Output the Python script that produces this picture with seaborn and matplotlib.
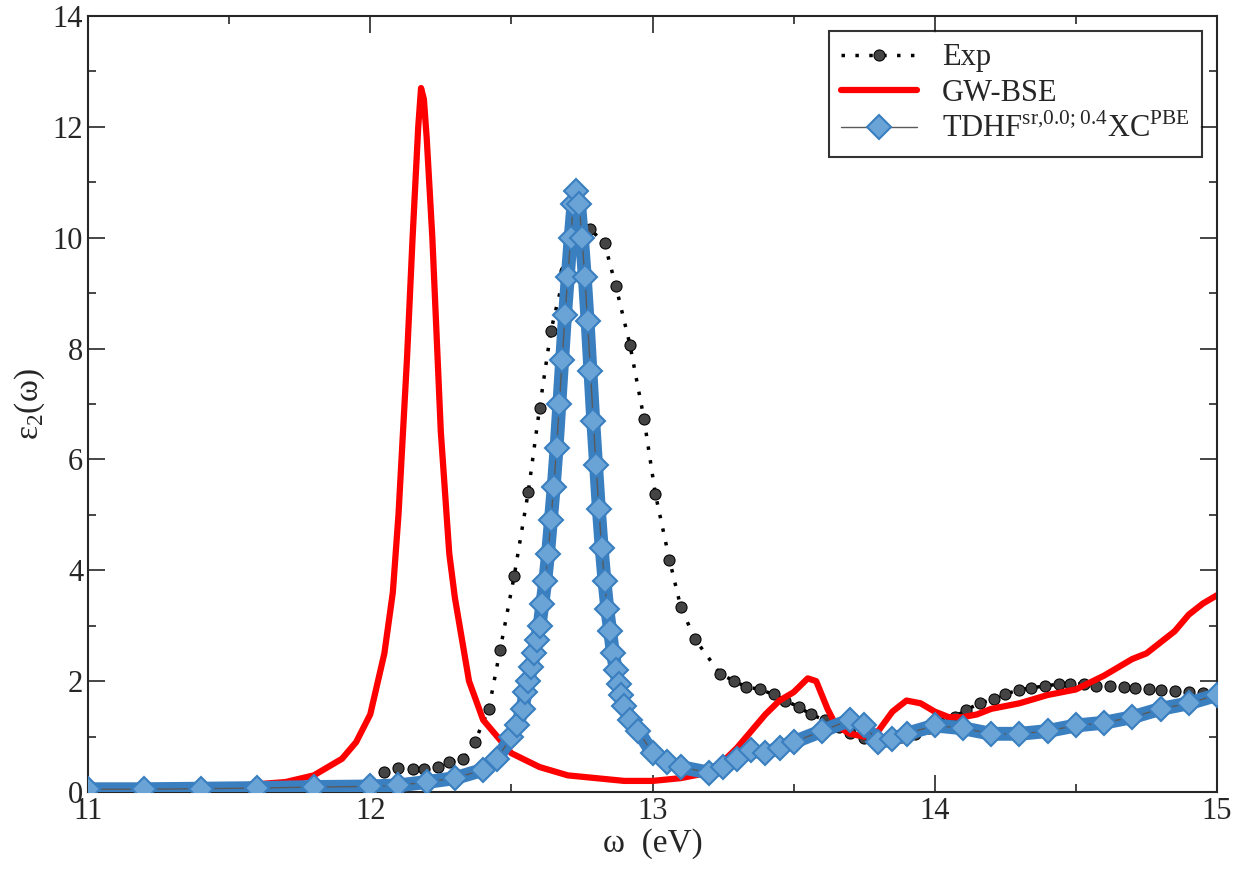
import matplotlib
matplotlib.use('Agg')
import matplotlib.pyplot as plt
import seaborn as sns
from matplotlib.ticker import MultipleLocator

sns.set_style('ticks')
plt.rcParams['font.family'] = ['Liberation Serif', 'DejaVu Serif']
plt.rcParams['mathtext.fontset'] = 'custom'
plt.rcParams['mathtext.rm'] = 'Liberation Serif'

# experimental points
exp_x = [12.05, 12.10, 12.15, 12.19, 12.24, 12.28, 12.33, 12.37, 12.42, 12.46, 12.51, 12.56,
         12.60, 12.64, 12.69, 12.74, 12.78, 12.83, 12.87, 12.92, 12.97, 13.01, 13.06, 13.10,
         13.15, 13.24, 13.29, 13.33, 13.38, 13.43, 13.47, 13.52, 13.56, 13.61, 13.66, 13.70,
         13.75, 13.79, 13.84, 13.88, 13.93, 13.98, 14.02, 14.07, 14.11, 14.16, 14.21, 14.25,
         14.30, 14.34, 14.39, 14.44, 14.48, 14.53, 14.57, 14.62, 14.67, 14.71, 14.76, 14.80,
         14.85, 14.90, 14.95]
exp_y = [0.36, 0.43, 0.41, 0.41, 0.45, 0.54, 0.60, 0.90, 1.50, 2.56, 3.90, 5.42,
         6.93, 8.32, 9.40, 10.05, 10.15, 9.90, 9.13, 8.07, 6.73, 5.38, 4.19, 3.34,
         2.76, 2.13, 2.00, 1.90, 1.85, 1.76, 1.65, 1.53, 1.40, 1.30, 1.18, 1.07,
         0.98, 0.92, 0.96, 1.00, 1.05, 1.15, 1.25, 1.35, 1.48, 1.60, 1.68, 1.77,
         1.84, 1.88, 1.91, 1.95, 1.95, 1.95, 1.91, 1.91, 1.90, 1.88, 1.86, 1.84,
         1.82, 1.80, 1.79]

# GW-BSE
gw_x = [11.0, 11.3, 11.5, 11.7, 11.8, 11.9, 11.95, 12.0, 12.05, 12.08, 12.1, 12.13, 12.15,
        12.17, 12.18, 12.19, 12.2, 12.22, 12.25, 12.28, 12.3, 12.35, 12.4, 12.5, 12.6, 12.7,
        12.8, 12.9, 13.0, 13.1, 13.2, 13.25, 13.3, 13.35, 13.4, 13.45, 13.5, 13.55, 13.58,
        13.62, 13.65, 13.7, 13.75, 13.8, 13.85, 13.9, 13.95, 14.0, 14.05, 14.1, 14.15, 14.2,
        14.3, 14.4, 14.5, 14.6, 14.7, 14.75, 14.8, 14.85, 14.9, 14.95, 15.0]
gw_y = [0.05, 0.07, 0.1, 0.18, 0.3, 0.6, 0.9, 1.4, 2.5, 3.6, 5.0, 7.8, 10.0,
        12.0, 12.7, 12.5, 11.8, 10.0, 6.5, 4.3, 3.5, 2.0, 1.3, 0.7, 0.45, 0.3,
        0.25, 0.2, 0.2, 0.25, 0.35, 0.55, 0.8, 1.1, 1.4, 1.65, 1.8, 2.05, 2.0,
        1.5, 1.2, 1.05, 1.0, 1.1, 1.45, 1.65, 1.6, 1.45, 1.35, 1.35, 1.4, 1.5,
        1.6, 1.75, 1.85, 2.1, 2.4, 2.5, 2.7, 2.9, 3.2, 3.4, 3.55]

# TDHF
td_x = [11.0, 11.2, 11.4, 11.6, 11.8, 12.0, 12.1, 12.2, 12.3, 12.4, 12.45, 12.5, 12.52,
        12.54, 12.55, 12.56, 12.57, 12.58, 12.59, 12.60, 12.61, 12.62, 12.63, 12.64, 12.65,
        12.66, 12.67, 12.68, 12.69, 12.70, 12.71, 12.72, 12.73, 12.74, 12.75, 12.76, 12.77,
        12.78, 12.79, 12.80, 12.81, 12.82, 12.83, 12.84, 12.85, 12.86, 12.87, 12.88, 12.89,
        12.90, 12.92, 12.95, 13.0, 13.05, 13.1, 13.2, 13.25, 13.3, 13.35, 13.4, 13.45, 13.5,
        13.6, 13.7, 13.75, 13.8, 13.85, 13.9, 14.0, 14.1, 14.2, 14.3, 14.4, 14.5, 14.6,
        14.7, 14.8, 14.9, 15.0]
td_y = [0.05, 0.05, 0.06, 0.07, 0.09, 0.1, 0.12, 0.18, 0.25, 0.4, 0.6, 1.0, 1.2,
        1.5, 1.8, 2.0, 2.25, 2.5, 2.75, 3.0, 3.4, 3.8, 4.3, 4.9, 5.5,
        6.2, 7.0, 7.8, 8.6, 9.3, 10.0, 10.6, 10.85, 10.6, 10.0, 9.3, 8.5,
        7.6, 6.7, 5.9, 5.1, 4.4, 3.8, 3.3, 2.9, 2.5, 2.2, 1.95, 1.75,
        1.55, 1.3, 1.1, 0.7, 0.55, 0.45, 0.35, 0.45, 0.6, 0.75, 0.7, 0.8, 0.9,
        1.1, 1.3, 1.2, 0.9, 0.95, 1.05, 1.2, 1.15, 1.05, 1.05, 1.1, 1.2, 1.25,
        1.35, 1.5, 1.6, 1.75]

fig = plt.figure(figsize=(12.47, 8.73), dpi=100)
ax = fig.add_axes([88 / 1247, 1 - 792 / 873, (1217 - 88) / 1247, (792 - 16) / 873])

sns.lineplot(x=exp_x, y=exp_y, ax=ax, color='black', linestyle=(0, (1, 3)), linewidth=2.5,
             marker='o', markersize=8, markerfacecolor='#444444', markeredgecolor='black',
             label='Exp', sort=False)
sns.lineplot(x=gw_x, y=gw_y, ax=ax, color='#ff0000', linewidth=4.5, label='GW-BSE', sort=False)
# thick band standing in for the dense overlapping diamonds
ax.plot(td_x, td_y, color='#3a7fc0', linewidth=10, solid_capstyle='round', zorder=3)
sns.lineplot(x=td_x, y=td_y, ax=ax, color='#5a5a5a', linewidth=1, marker='D', markersize=12,
             markerfacecolor='#6aa3d5', markeredgecolor='#3a7fc0', markeredgewidth=1.5,
             label=r'TDHF$^{\mathrm{sr{,}0.0{;}0.4}}$XC$^{\mathrm{PBE}}$', sort=False, zorder=4)

ax.set_xlim(11, 15)
ax.set_ylim(0, 14)
ax.xaxis.set_major_locator(MultipleLocator(1))
ax.xaxis.set_minor_locator(MultipleLocator(0.5))
ax.yaxis.set_major_locator(MultipleLocator(2))
ax.yaxis.set_minor_locator(MultipleLocator(1))
ax.tick_params(which='both', direction='in', top=True, right=True, labelsize=22)
ax.tick_params(which='major', length=12, width=1.2)
ax.tick_params(which='minor', length=6, width=1.2)
for s in ax.spines.values():
    s.set_linewidth(1.5)
ax.set_xlabel('ω  (eV)', fontsize=24, labelpad=2)
ax.set_ylabel('ε$_2$(ω)', fontsize=24)

leg = ax.legend(loc='upper right', fontsize=22, frameon=True, fancybox=False, edgecolor='black',
                handlelength=2.5, borderaxespad=0.5, labelspacing=0.2)
leg.get_frame().set_linewidth(1.5)

plt.savefig('out.png', dpi=100)
